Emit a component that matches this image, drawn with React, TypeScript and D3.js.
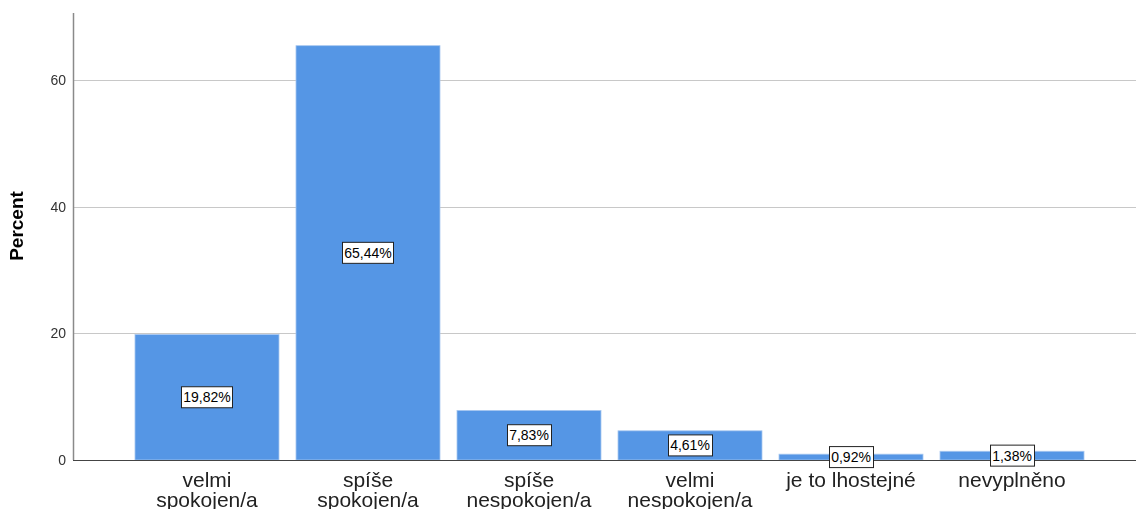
import { useEffect, useRef } from "react";
import * as d3 from "d3";

const categories = [
  ["velmi", "spokojen/a"],
  ["spíše", "spokojen/a"],
  ["spíše", "nespokojen/a"],
  ["velmi", "nespokojen/a"],
  ["je to lhostejné"],
  ["nevyplněno"],
];
const percents = [19.82, 65.44, 7.83, 4.61, 0.92, 1.38];
const yTicks = [0, 20, 40, 60];

export default function App() {
  const svgRef = useRef<SVGSVGElement>(null);

  useEffect(() => {
    if (!svgRef.current) return;
    const svg = d3.select(svgRef.current);
    svg.selectAll("*").remove();

    const W = 1136, H = 509;
    const left = 73, right = 1136, top = 13, bottom = 460;
    const font = "Liberation Sans, Arial, sans-serif";

    const y = d3.scaleLinear().domain([0, 70.6]).range([bottom, top]);
    const x = d3.scaleBand<number>()
      .domain(d3.range(percents.length))
      .range([left, 1146])
      .paddingInner(0.1056)
      .paddingOuter(0.385);

    svg.attr("width", W).attr("height", H);

    // Grid
    svg.append("g").selectAll("line")
      .data(yTicks.filter(t => t > 0))
      .join("line")
      .attr("x1", left).attr("x2", right)
      .attr("y1", d => Math.round(y(d)) + 0.5).attr("y2", d => Math.round(y(d)) + 0.5)
      .attr("stroke", "#c8c8c8").attr("stroke-width", 1);

    // Y tick labels
    svg.append("g").selectAll("text")
      .data(yTicks)
      .join("text")
      .attr("x", 66)
      .attr("y", d => y(d))
      .attr("dy", "0.36em")
      .attr("text-anchor", "end")
      .attr("font-family", font)
      .attr("font-size", 14)
      .attr("fill", "#333")
      .text(d => d);

    // Bars
    svg.append("g").selectAll("rect")
      .data(percents)
      .join("rect")
      .attr("x", (_, i) => x(i)!)
      .attr("y", d => y(d))
      .attr("width", x.bandwidth())
      .attr("height", d => bottom - y(d))
      .attr("fill", "#5596e5")
      .attr("stroke", "#a8c8f0")
      .attr("stroke-width", 0.8);

    // Axes lines
    svg.append("line")
      .attr("x1", left + 0.5).attr("x2", left + 0.5)
      .attr("y1", top).attr("y2", bottom)
      .attr("stroke", "#8a8a8a").attr("stroke-width", 1.5);
    svg.append("line")
      .attr("x1", left).attr("x2", right)
      .attr("y1", bottom + 0.5).attr("y2", bottom + 0.5)
      .attr("stroke", "#444").attr("stroke-width", 1);

    // Value labels
    const lab = svg.append("g").selectAll("g")
      .data(percents)
      .join("g")
      .attr("transform", (d, i) => `translate(${x(i)! + x.bandwidth() / 2},${(y(d) + bottom) / 2})`);
    lab.each(function (d) {
      const g = d3.select(this);
      const t = g.append("text")
        .attr("text-anchor", "middle")
        .attr("dy", "0.36em")
        .attr("font-family", font)
        .attr("font-size", 14)
        .attr("fill", "#000")
        .text(d.toFixed(2).replace(".", ",") + "%");
      const bb = (t.node() as SVGTextElement).getBBox();
      g.insert("rect", "text")
        .attr("x", Math.round(bb.x - 2) + 0.5).attr("y", -10.5)
        .attr("width", Math.round(bb.width + 4)).attr("height", 21)
        .attr("fill", "#fff")
        .attr("stroke", "#222")
        .attr("stroke-width", 1);
    });

    // Category labels
    const cat = svg.append("g").selectAll("text")
      .data(categories)
      .join("text")
      .attr("x", (_, i) => x(i)! + x.bandwidth() / 2)
      .attr("y", 487)
      .attr("text-anchor", "middle")
      .attr("font-family", font)
      .attr("font-size", 21)
      .attr("fill", "#222");
    cat.selectAll("tspan")
      .data(d => d)
      .join("tspan")
      .attr("x", function () { return (this.parentNode as SVGTextElement).getAttribute("x"); })
      .attr("dy", (_, j) => (j === 0 ? 0 : 19.5))
      .text(d => d);

    // Y axis title
    svg.append("text")
      .attr("transform", `translate(23,${226}) rotate(-90)`)
      .attr("text-anchor", "middle")
      .attr("font-family", font)
      .attr("font-size", 19)
      .attr("font-weight", "bold")
      .attr("fill", "#000")
      .text("Percent");
  }, []);

  return (
    <div style={{ position: "fixed", left: 0, top: 0, width: 1136, height: 509, overflow: "hidden" }}>
      <svg ref={svgRef} style={{ display: "block" }} />
    </div>
  );
}
